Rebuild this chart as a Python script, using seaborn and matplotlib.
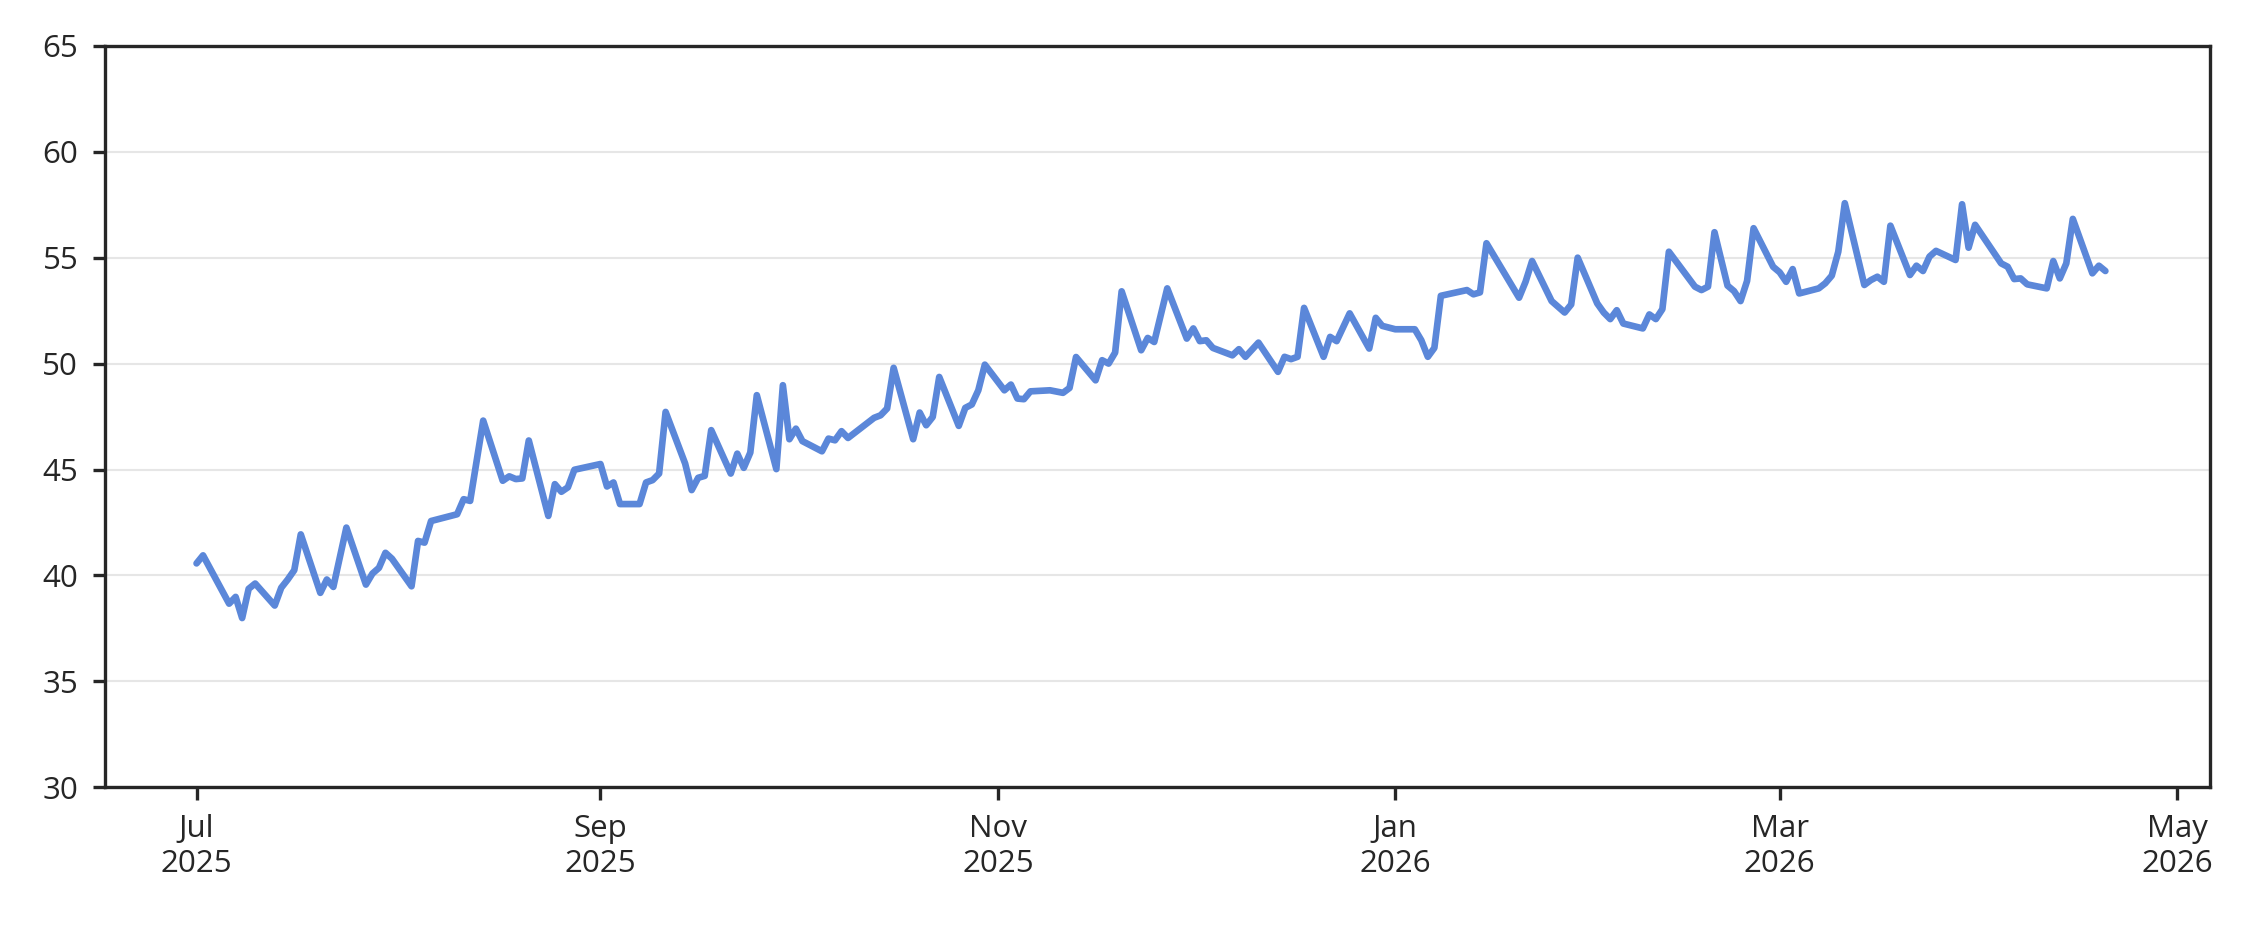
import pandas as pd
import numpy as np
import matplotlib
matplotlib.use('Agg')
import matplotlib.pyplot as plt
import matplotlib.dates as mdates
import seaborn as sns

start = pd.Timestamp('2025-07-01')

# days after 1 Jul 2025 (gaps = missing days)
day_offsets = [0, 1, 5, 6, 7, 8, 9, 12, 13, 14, 15, 16, 19, 20, 21, 23, 26, 27, 28, 29,
               30, 33, 34, 35, 36, 40, 41, 42, 44, 47, 48, 49, 50, 51, 54, 55, 56, 57, 58, 62,
               63, 64, 65, 68,
               69, 70, 71, 72, 75, 76, 77, 78, 79, 82, 83, 84, 85, 86, 89, 90, 91, 92, 93, 96,
               97, 98, 99, 100, 104, 105, 106, 107, 110, 111, 112, 113, 114, 117, 118, 119, 120,
               121, 124, 125, 126, 127, 128, 131, 133, 134, 135, 138, 139, 140, 141, 142, 145,
               146, 147,
               149, 152, 153, 154, 155, 156, 159, 160, 161, 163, 166, 167, 168, 169, 170, 173,
               174, 175, 177, 180, 181, 182, 184, 187, 188, 189, 190, 191, 195, 196, 197, 198,
               203, 204, 205, 208, 209, 210, 211, 212, 215, 216, 217, 218, 219, 222, 223, 224,
               225, 226,
               230, 231, 232, 233, 235, 236, 237, 238, 239, 242, 243, 244, 245, 246, 249, 250,
               251, 252, 253, 256, 257, 258, 259, 260, 263, 264, 265, 266, 267, 270, 271, 272,
               273, 277, 278, 279, 280, 281, 284, 285, 286, 287, 288, 291, 292, 293]

values = [40.57, 40.95, 38.67, 38.99, 37.99, 39.37, 39.62, 38.58, 39.42, 39.81, 40.25, 41.94,
          39.18, 39.81, 39.46, 42.26, 39.57, 40.09, 40.36, 41.07, 40.79, 39.49, 41.63, 41.55,
          42.57, 42.89, 43.6, 43.52, 47.31, 44.47, 44.68, 44.55, 44.58, 46.37, 42.81, 44.31,
          43.95, 44.16, 44.99, 45.26, 44.2, 44.39, 43.37, 43.37,
          44.39, 44.5, 44.81, 47.72, 45.28, 44.03, 44.61, 44.7, 46.86, 44.81, 45.75, 45.08,
          45.8, 48.51, 45.02, 48.98, 46.43, 46.93, 46.34, 45.86, 46.46, 46.38, 46.81, 46.49,
          47.44, 47.56, 47.88, 49.8, 46.43, 47.69, 47.09, 47.48, 49.37, 47.06, 47.91, 48.07,
          48.74, 49.95, 48.74, 49.01, 48.35, 48.32, 48.69, 48.74, 48.62, 48.85, 50.31, 49.21,
          50.16, 50.0, 50.52, 53.41, 50.63, 51.21, 51.02,
          53.55, 51.18, 51.66, 51.06, 51.1, 50.74, 50.39, 50.68, 50.32, 50.99, 49.61, 50.32,
          50.21, 50.32, 52.63, 50.32, 51.26, 51.06, 52.37, 50.71, 52.16, 51.78, 51.62, 51.62,
          51.1, 50.32, 50.74, 53.2, 53.47, 53.27, 53.36, 55.68, 53.11, 53.86, 54.84, 52.95,
          52.68, 52.41, 52.79, 55.0, 52.84, 52.41, 52.1, 52.52, 51.89, 51.66, 52.32, 52.1,
          52.57, 55.28,
          53.63, 53.47, 53.63, 56.2, 53.68, 53.42, 52.95, 53.9, 56.39, 54.57, 54.31, 53.86,
          54.46, 53.31, 53.55, 53.79, 54.15, 55.28, 57.57, 53.71, 53.94, 54.1, 53.86, 56.51,
          54.18, 54.62, 54.37, 55.05, 55.32, 54.89, 57.52, 55.47, 56.55, 54.73, 54.57, 53.99,
          54.02, 53.74, 53.55, 54.84, 54.02, 54.73, 56.83, 54.26, 54.62, 54.37]

df = pd.DataFrame({'date': start + pd.to_timedelta(day_offsets, unit='D'), 'value': values})

sns.set_style('ticks')
plt.rcParams['font.family'] = ['Open Sans', 'DejaVu Sans']

fig = plt.figure(figsize=(2241 / 300, 934 / 300), dpi=300)
ax = fig.add_axes([0.047, 0.157, 0.939, 0.794])
sns.lineplot(data=df, x='date', y='value', color='#5b87d9', linewidth=1.6, ax=ax)

ax.set_ylim(30, 65)
ax.set_yticks(range(30, 66, 5))
ax.set_xlim(pd.Timestamp('2025-06-17'), pd.Timestamp('2026-05-06'))
ax.xaxis.set_major_locator(mdates.MonthLocator(bymonth=[1, 3, 5, 7, 9, 11]))
ax.xaxis.set_major_formatter(mdates.DateFormatter('%b\n%Y'))
ax.grid(axis='y', color='#e6e6e6', linewidth=0.5)
ax.set_axisbelow(True)
ax.set_xlabel('')
ax.set_ylabel('')
ax.tick_params(labelsize=7.5, length=3, width=0.8)
for s in ax.spines.values():
    s.set_linewidth(0.8)

fig.savefig('out.png', dpi=300)
